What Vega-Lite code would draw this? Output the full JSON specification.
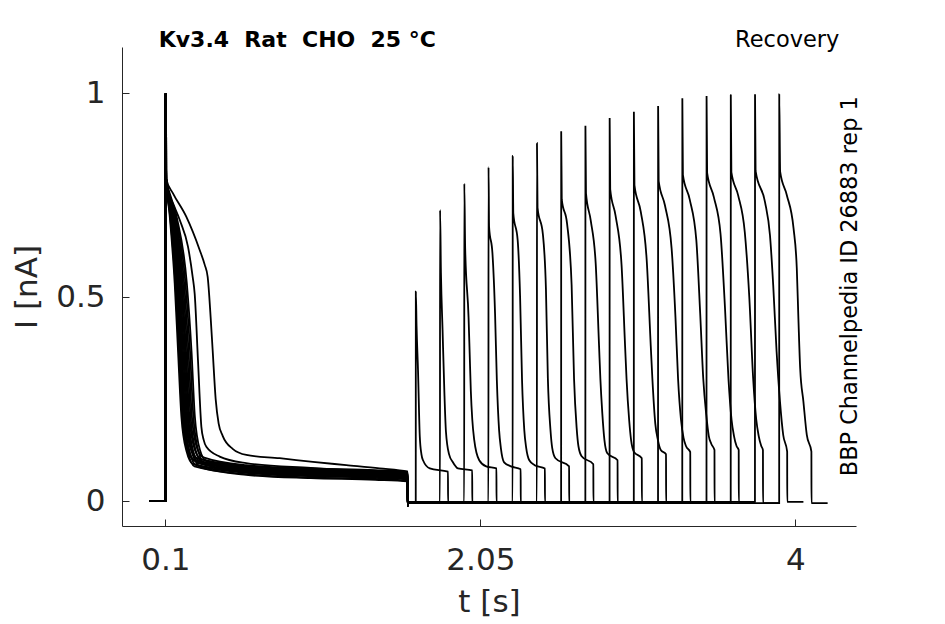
{
"$schema": "https://vega.github.io/schema/vega-lite/v6.json",
"width": 734, "height": 479,
"autosize": {"type": "none"},
"padding": {"left": 122, "top": 47, "right": 89, "bottom": 98},
"background": "white",
"config": {"view": {"stroke": null}, "font": "DejaVu Sans"},
"layer": [
{"data": {"values": [
{"k":1,"t":0,"i":0},{"k":1,"t":0.0995,"i":0},{"k":1,"t":0.1,"i":1},{"k":1,"t":0.105,"i":0.79},{"k":1,"t":0.1266,"i":0.7},{"k":1,"t":0.1576,"i":0.534},{"k":1,"t":0.178,"i":0.37},{"k":1,"t":0.199,"i":0.207},{"k":1,"t":0.23,"i":0.123},{"k":1,"t":0.2708,"i":0.091},{"k":1,"t":0.6,"i":0.072},{"k":1,"t":1,"i":0.064},{"k":1,"t":1.4,"i":0.06},{"k":1,"t":1.5995,"i":0.056},{"k":1,"t":1.6,"i":-0.012},{"k":1,"t":1.605,"i":-0.002},{"k":1,"t":1.65,"i":-0.002},{"k":1,"t":1.6505,"i":0.514},{"k":1,"t":1.655,"i":0.43},{"k":1,"t":1.664,"i":0.321},{"k":1,"t":1.675,"i":0.158},{"k":1,"t":1.685,"i":0.115},{"k":1,"t":1.695,"i":0.1},{"k":1,"t":1.737,"i":0.08},{"k":1,"t":1.8495,"i":0.072},{"k":1,"t":1.85,"i":-0.002},{"k":1,"t":1.95,"i":-0.002},
{"k":2,"t":0,"i":0},{"k":2,"t":0.1035,"i":0},{"k":2,"t":0.104,"i":1},{"k":2,"t":0.105,"i":0.79},{"k":2,"t":0.1291,"i":0.7},{"k":2,"t":0.1621,"i":0.534},{"k":2,"t":0.183,"i":0.37},{"k":2,"t":0.204,"i":0.207},{"k":2,"t":0.235,"i":0.128},{"k":2,"t":0.2758,"i":0.101},{"k":2,"t":0.6,"i":0.082},{"k":2,"t":1,"i":0.074},{"k":2,"t":1.4,"i":0.07},{"k":2,"t":1.5995,"i":0.066},{"k":2,"t":1.6,"i":-0.012},{"k":2,"t":1.605,"i":-0.005},{"k":2,"t":1.8,"i":-0.005},{"k":2,"t":1.8005,"i":0.714},{"k":2,"t":1.806,"i":0.56},{"k":2,"t":1.816,"i":0.42},{"k":2,"t":1.827,"i":0.27},{"k":2,"t":1.837,"i":0.17},{"k":2,"t":1.856,"i":0.115},{"k":2,"t":1.88,"i":0.095},{"k":2,"t":1.911,"i":0.08},{"k":2,"t":1.9995,"i":0.075},{"k":2,"t":2,"i":-0.005},{"k":2,"t":2.1,"i":-0.005},
{"k":3,"t":0,"i":0},{"k":3,"t":0.0995,"i":0},{"k":3,"t":0.1,"i":1},{"k":3,"t":0.105,"i":0.79},{"k":3,"t":0.1316,"i":0.7},{"k":3,"t":0.1665,"i":0.534},{"k":3,"t":0.1879,"i":0.37},{"k":3,"t":0.2089,"i":0.207},{"k":3,"t":0.2399,"i":0.12},{"k":3,"t":0.2807,"i":0.085},{"k":3,"t":0.6,"i":0.066},{"k":3,"t":1,"i":0.058},{"k":3,"t":1.4,"i":0.054},{"k":3,"t":1.5995,"i":0.05},{"k":3,"t":1.6,"i":-0.012},{"k":3,"t":1.605,"i":-0.002},{"k":3,"t":1.95,"i":-0.002},{"k":3,"t":1.9505,"i":0.779},{"k":3,"t":1.956,"i":0.62},{"k":3,"t":1.977,"i":0.45},{"k":3,"t":1.984,"i":0.36},{"k":3,"t":1.991,"i":0.27},{"k":3,"t":2,"i":0.2},{"k":3,"t":2.012,"i":0.15},{"k":3,"t":2.043,"i":0.1},{"k":3,"t":2.086,"i":0.085},{"k":3,"t":2.1495,"i":0.08},{"k":3,"t":2.15,"i":-0.002},{"k":3,"t":2.25,"i":-0.002},
{"k":4,"t":0,"i":0},{"k":4,"t":0.1035,"i":0},{"k":4,"t":0.104,"i":1},{"k":4,"t":0.105,"i":0.79},{"k":4,"t":0.134,"i":0.7},{"k":4,"t":0.171,"i":0.534},{"k":4,"t":0.1929,"i":0.37},{"k":4,"t":0.2139,"i":0.207},{"k":4,"t":0.2449,"i":0.126},{"k":4,"t":0.2857,"i":0.097},{"k":4,"t":0.6,"i":0.078},{"k":4,"t":1,"i":0.07},{"k":4,"t":1.4,"i":0.066},{"k":4,"t":1.5995,"i":0.062},{"k":4,"t":1.6,"i":-0.012},{"k":4,"t":1.605,"i":-0.005},{"k":4,"t":2.1,"i":-0.005},{"k":4,"t":2.1005,"i":0.819},{"k":4,"t":2.104,"i":0.673},{"k":4,"t":2.125,"i":0.607},{"k":4,"t":2.141,"i":0.46},{"k":4,"t":2.152,"i":0.297},{"k":4,"t":2.166,"i":0.174},{"k":4,"t":2.177,"i":0.13},{"k":4,"t":2.197,"i":0.095},{"k":4,"t":2.24,"i":0.085},{"k":4,"t":2.2995,"i":0.078},{"k":4,"t":2.3,"i":-0.005},{"k":4,"t":2.4,"i":-0.005},
{"k":5,"t":0,"i":0},{"k":5,"t":0.0995,"i":0},{"k":5,"t":0.1,"i":1},{"k":5,"t":0.105,"i":0.79},{"k":5,"t":0.1365,"i":0.7},{"k":5,"t":0.1754,"i":0.534},{"k":5,"t":0.1978,"i":0.37},{"k":5,"t":0.2188,"i":0.207},{"k":5,"t":0.2498,"i":0.121},{"k":5,"t":0.2906,"i":0.088},{"k":5,"t":0.6,"i":0.069},{"k":5,"t":1,"i":0.061},{"k":5,"t":1.4,"i":0.057},{"k":5,"t":1.5995,"i":0.053},{"k":5,"t":1.6,"i":-0.012},{"k":5,"t":1.605,"i":-0.002},{"k":5,"t":2.25,"i":-0.002},{"k":5,"t":2.2505,"i":0.847},{"k":5,"t":2.254,"i":0.706},{"k":5,"t":2.281,"i":0.64},{"k":5,"t":2.296,"i":0.501},{"k":5,"t":2.308,"i":0.297},{"k":5,"t":2.322,"i":0.174},{"k":5,"t":2.334,"i":0.13},{"k":5,"t":2.353,"i":0.1},{"k":5,"t":2.386,"i":0.088},{"k":5,"t":2.4495,"i":0.08},{"k":5,"t":2.45,"i":-0.002},{"k":5,"t":2.55,"i":-0.002},
{"k":6,"t":0,"i":0},{"k":6,"t":0.1035,"i":0},{"k":6,"t":0.104,"i":1},{"k":6,"t":0.105,"i":0.79},{"k":6,"t":0.139,"i":0.7},{"k":6,"t":0.1799,"i":0.534},{"k":6,"t":0.2028,"i":0.37},{"k":6,"t":0.2238,"i":0.207},{"k":6,"t":0.2548,"i":0.13},{"k":6,"t":0.2956,"i":0.105},{"k":6,"t":0.6,"i":0.086},{"k":6,"t":1,"i":0.078},{"k":6,"t":1.4,"i":0.074},{"k":6,"t":1.5995,"i":0.07},{"k":6,"t":1.6,"i":-0.012},{"k":6,"t":1.605,"i":-0.005},{"k":6,"t":2.4,"i":-0.005},{"k":6,"t":2.4005,"i":0.878},{"k":6,"t":2.404,"i":0.72},{"k":6,"t":2.437,"i":0.655},{"k":6,"t":2.456,"i":0.52},{"k":6,"t":2.468,"i":0.3},{"k":6,"t":2.484,"i":0.175},{"k":6,"t":2.495,"i":0.13},{"k":6,"t":2.515,"i":0.105},{"k":6,"t":2.5995,"i":0.085},{"k":6,"t":2.6,"i":-0.005},{"k":6,"t":2.7,"i":-0.005},
{"k":7,"t":0,"i":0},{"k":7,"t":0.0995,"i":0},{"k":7,"t":0.1,"i":1},{"k":7,"t":0.105,"i":0.79},{"k":7,"t":0.1421,"i":0.7},{"k":7,"t":0.1854,"i":0.534},{"k":7,"t":0.2089,"i":0.37},{"k":7,"t":0.2299,"i":0.207},{"k":7,"t":0.2609,"i":0.124},{"k":7,"t":0.3017,"i":0.093},{"k":7,"t":0.6,"i":0.074},{"k":7,"t":1,"i":0.066},{"k":7,"t":1.4,"i":0.062},{"k":7,"t":1.5995,"i":0.058},{"k":7,"t":1.6,"i":-0.012},{"k":7,"t":1.605,"i":-0.002},{"k":7,"t":2.55,"i":-0.002},{"k":7,"t":2.5505,"i":0.907},{"k":7,"t":2.554,"i":0.74},{"k":7,"t":2.587,"i":0.68},{"k":7,"t":2.615,"i":0.53},{"k":7,"t":2.63,"i":0.3},{"k":7,"t":2.646,"i":0.18},{"k":7,"t":2.657,"i":0.135},{"k":7,"t":2.677,"i":0.11},{"k":7,"t":2.7495,"i":0.09},{"k":7,"t":2.75,"i":-0.002},{"k":7,"t":2.85,"i":-0.002},
{"k":8,"t":0,"i":0},{"k":8,"t":0.1035,"i":0},{"k":8,"t":0.104,"i":1},{"k":8,"t":0.105,"i":0.79},{"k":8,"t":0.1452,"i":0.7},{"k":8,"t":0.191,"i":0.534},{"k":8,"t":0.2151,"i":0.37},{"k":8,"t":0.2361,"i":0.207},{"k":8,"t":0.2671,"i":0.127},{"k":8,"t":0.3079,"i":0.099},{"k":8,"t":0.6,"i":0.08},{"k":8,"t":1,"i":0.072},{"k":8,"t":1.4,"i":0.068},{"k":8,"t":1.5995,"i":0.064},{"k":8,"t":1.6,"i":-0.012},{"k":8,"t":1.605,"i":-0.005},{"k":8,"t":2.7,"i":-0.005},{"k":8,"t":2.7005,"i":0.921},{"k":8,"t":2.704,"i":0.755},{"k":8,"t":2.733,"i":0.689},{"k":8,"t":2.764,"i":0.583},{"k":8,"t":2.785,"i":0.379},{"k":8,"t":2.793,"i":0.3},{"k":8,"t":2.805,"i":0.215},{"k":8,"t":2.818,"i":0.15},{"k":8,"t":2.836,"i":0.117},{"k":8,"t":2.8995,"i":0.1},{"k":8,"t":2.9,"i":-0.005},{"k":8,"t":3,"i":-0.005},
{"k":9,"t":0,"i":0},{"k":9,"t":0.0995,"i":0},{"k":9,"t":0.1,"i":1},{"k":9,"t":0.105,"i":0.79},{"k":9,"t":0.1483,"i":0.7},{"k":9,"t":0.1966,"i":0.534},{"k":9,"t":0.2213,"i":0.37},{"k":9,"t":0.2423,"i":0.207},{"k":9,"t":0.2733,"i":0.119},{"k":9,"t":0.3141,"i":0.083},{"k":9,"t":0.6,"i":0.064},{"k":9,"t":1,"i":0.056},{"k":9,"t":1.4,"i":0.052},{"k":9,"t":1.5995,"i":0.048},{"k":9,"t":1.6,"i":-0.012},{"k":9,"t":1.605,"i":-0.002},{"k":9,"t":2.85,"i":-0.002},{"k":9,"t":2.8505,"i":0.94},{"k":9,"t":2.854,"i":0.765},{"k":9,"t":2.887,"i":0.7},{"k":9,"t":2.924,"i":0.58},{"k":9,"t":2.946,"i":0.38},{"k":9,"t":2.955,"i":0.3},{"k":9,"t":2.971,"i":0.2},{"k":9,"t":2.983,"i":0.15},{"k":9,"t":3.002,"i":0.12},{"k":9,"t":3.0495,"i":0.105},{"k":9,"t":3.05,"i":-0.002},{"k":9,"t":3.15,"i":-0.002},
{"k":10,"t":0,"i":0},{"k":10,"t":0.1035,"i":0},{"k":10,"t":0.104,"i":1},{"k":10,"t":0.105,"i":0.79},{"k":10,"t":0.1514,"i":0.7},{"k":10,"t":0.2022,"i":0.534},{"k":10,"t":0.2275,"i":0.37},{"k":10,"t":0.2485,"i":0.207},{"k":10,"t":0.2795,"i":0.129},{"k":10,"t":0.3203,"i":0.103},{"k":10,"t":0.6,"i":0.084},{"k":10,"t":1,"i":0.076},{"k":10,"t":1.4,"i":0.072},{"k":10,"t":1.5995,"i":0.068},{"k":10,"t":1.6,"i":-0.012},{"k":10,"t":1.605,"i":-0.005},{"k":10,"t":3,"i":-0.005},{"k":10,"t":3.0005,"i":0.955},{"k":10,"t":3.004,"i":0.775},{"k":10,"t":3.043,"i":0.71},{"k":10,"t":3.08,"i":0.59},{"k":10,"t":3.105,"i":0.38},{"k":10,"t":3.115,"i":0.3},{"k":10,"t":3.133,"i":0.19},{"k":10,"t":3.149,"i":0.15},{"k":10,"t":3.167,"i":0.125},{"k":10,"t":3.1995,"i":0.115},{"k":10,"t":3.2,"i":-0.005},{"k":10,"t":3.3,"i":-0.005},
{"k":11,"t":0,"i":0},{"k":11,"t":0.0995,"i":0},{"k":11,"t":0.1,"i":1},{"k":11,"t":0.105,"i":0.79},{"k":11,"t":0.1551,"i":0.7},{"k":11,"t":0.2088,"i":0.534},{"k":11,"t":0.2349,"i":0.37},{"k":11,"t":0.2559,"i":0.207},{"k":11,"t":0.2869,"i":0.125},{"k":11,"t":0.3277,"i":0.095},{"k":11,"t":0.6,"i":0.076},{"k":11,"t":1,"i":0.068},{"k":11,"t":1.4,"i":0.064},{"k":11,"t":1.5995,"i":0.06},{"k":11,"t":1.6,"i":-0.012},{"k":11,"t":1.605,"i":-0.002},{"k":11,"t":3.15,"i":-0.002},{"k":11,"t":3.1505,"i":0.969},{"k":11,"t":3.154,"i":0.785},{"k":11,"t":3.193,"i":0.725},{"k":11,"t":3.234,"i":0.62},{"k":11,"t":3.258,"i":0.45},{"k":11,"t":3.274,"i":0.3},{"k":11,"t":3.292,"i":0.2},{"k":11,"t":3.308,"i":0.155},{"k":11,"t":3.323,"i":0.135},{"k":11,"t":3.3495,"i":0.12},{"k":11,"t":3.35,"i":-0.002},{"k":11,"t":3.45,"i":-0.002},
{"k":12,"t":0,"i":0},{"k":12,"t":0.1035,"i":0},{"k":12,"t":0.104,"i":1},{"k":12,"t":0.105,"i":0.79},{"k":12,"t":0.1591,"i":0.7},{"k":12,"t":0.2161,"i":0.534},{"k":12,"t":0.243,"i":0.37},{"k":12,"t":0.264,"i":0.207},{"k":12,"t":0.295,"i":0.131},{"k":12,"t":0.3358,"i":0.107},{"k":12,"t":0.6,"i":0.088},{"k":12,"t":1,"i":0.08},{"k":12,"t":1.4,"i":0.076},{"k":12,"t":1.5995,"i":0.072},{"k":12,"t":1.6,"i":-0.012},{"k":12,"t":1.605,"i":-0.005},{"k":12,"t":3.3,"i":-0.005},{"k":12,"t":3.3005,"i":0.988},{"k":12,"t":3.304,"i":0.8},{"k":12,"t":3.346,"i":0.74},{"k":12,"t":3.387,"i":0.64},{"k":12,"t":3.411,"i":0.46},{"k":12,"t":3.43,"i":0.3},{"k":12,"t":3.449,"i":0.21},{"k":12,"t":3.464,"i":0.16},{"k":12,"t":3.48,"i":0.14},{"k":12,"t":3.4995,"i":0.125},{"k":12,"t":3.5,"i":-0.005},{"k":12,"t":3.6,"i":-0.005},
{"k":13,"t":0,"i":0},{"k":13,"t":0.0995,"i":0},{"k":13,"t":0.1,"i":1},{"k":13,"t":0.105,"i":0.79},{"k":13,"t":0.1637,"i":0.7},{"k":13,"t":0.2244,"i":0.534},{"k":13,"t":0.2523,"i":0.37},{"k":13,"t":0.2733,"i":0.207},{"k":13,"t":0.3043,"i":0.122},{"k":13,"t":0.3451,"i":0.09},{"k":13,"t":0.6,"i":0.071},{"k":13,"t":1,"i":0.063},{"k":13,"t":1.4,"i":0.059},{"k":13,"t":1.5995,"i":0.055},{"k":13,"t":1.6,"i":-0.012},{"k":13,"t":1.605,"i":-0.002},{"k":13,"t":3.45,"i":-0.002},{"k":13,"t":3.4505,"i":0.994},{"k":13,"t":3.454,"i":0.805},{"k":13,"t":3.496,"i":0.745},{"k":13,"t":3.537,"i":0.655},{"k":13,"t":3.565,"i":0.47},{"k":13,"t":3.586,"i":0.3},{"k":13,"t":3.605,"i":0.2},{"k":13,"t":3.62,"i":0.16},{"k":13,"t":3.636,"i":0.135},{"k":13,"t":3.6495,"i":0.125},{"k":13,"t":3.65,"i":-0.002},{"k":13,"t":3.75,"i":-0.002},
{"k":14,"t":0,"i":0},{"k":14,"t":0.1035,"i":0},{"k":14,"t":0.104,"i":1},{"k":14,"t":0.105,"i":0.79},{"k":14,"t":0.1684,"i":0.7},{"k":14,"t":0.2328,"i":0.534},{"k":14,"t":0.2615,"i":0.37},{"k":14,"t":0.2825,"i":0.207},{"k":14,"t":0.3135,"i":0.126},{"k":14,"t":0.3543,"i":0.098},{"k":14,"t":0.6,"i":0.079},{"k":14,"t":1,"i":0.071},{"k":14,"t":1.4,"i":0.067},{"k":14,"t":1.5995,"i":0.063},{"k":14,"t":1.6,"i":-0.012},{"k":14,"t":1.605,"i":-0.005},{"k":14,"t":3.6,"i":-0.005},{"k":14,"t":3.6005,"i":0.996},{"k":14,"t":3.604,"i":0.807},{"k":14,"t":3.646,"i":0.75},{"k":14,"t":3.687,"i":0.66},{"k":14,"t":3.715,"i":0.5},{"k":14,"t":3.739,"i":0.3},{"k":14,"t":3.758,"i":0.2},{"k":14,"t":3.773,"i":0.16},{"k":14,"t":3.789,"i":0.135},{"k":14,"t":3.7995,"i":0.125},{"k":14,"t":3.8,"i":-0.005},{"k":14,"t":3.9,"i":-0.005},
{"k":15,"t":0,"i":0},{"k":15,"t":0.0995,"i":0},{"k":15,"t":0.1,"i":1},{"k":15,"t":0.105,"i":0.79},{"k":15,"t":0.1266,"i":0.755},{"k":15,"t":0.1885,"i":0.69},{"k":15,"t":0.2399,"i":0.624},{"k":15,"t":0.2689,"i":0.55},{"k":15,"t":0.2813,"i":0.509},{"k":15,"t":0.3017,"i":0.346},{"k":15,"t":0.3228,"i":0.182},{"k":15,"t":0.337,"i":0.15},{"k":15,"t":0.3537,"i":0.133},{"k":15,"t":0.436,"i":0.109},{"k":15,"t":0.6,"i":0.093},{"k":15,"t":1,"i":0.081},{"k":15,"t":1.3,"i":0.074},{"k":15,"t":1.5995,"i":0.068},{"k":15,"t":1.6,"i":-0.012},{"k":15,"t":1.605,"i":-0.002},{"k":15,"t":3.75,"i":-0.002},{"k":15,"t":3.7505,"i":0.998},{"k":15,"t":3.754,"i":0.81},{"k":15,"t":3.812,"i":0.734},{"k":15,"t":3.843,"i":0.652},{"k":15,"t":3.863,"i":0.53},{"k":15,"t":3.884,"i":0.367},{"k":15,"t":3.905,"i":0.244},{"k":15,"t":3.925,"i":0.162},{"k":15,"t":3.9495,"i":0.121},{"k":15,"t":3.95,"i":-0.002},{"k":15,"t":4.05,"i":-0.002},
{"k":16,"t":0,"i":0},{"k":16,"t":0.1035,"i":0},{"k":16,"t":0.104,"i":1},{"k":16,"t":0.105,"i":0.79},{"k":16,"t":0.147,"i":0.755},{"k":16,"t":0.23,"i":0.697},{"k":16,"t":0.3123,"i":0.616},{"k":16,"t":0.3432,"i":0.58},{"k":16,"t":0.3618,"i":0.55},{"k":16,"t":0.3803,"i":0.45},{"k":16,"t":0.3927,"i":0.37},{"k":16,"t":0.4113,"i":0.25},{"k":16,"t":0.4298,"i":0.19},{"k":16,"t":0.4546,"i":0.16},{"k":16,"t":0.5165,"i":0.128},{"k":16,"t":0.6012,"i":0.113},{"k":16,"t":0.8073,"i":0.105},{"k":16,"t":1.0134,"i":0.096},{"k":16,"t":1.22,"i":0.088},{"k":16,"t":1.4261,"i":0.08},{"k":16,"t":1.5995,"i":0.072},{"k":16,"t":1.6,"i":-0.012},{"k":16,"t":1.605,"i":-0.005},{"k":16,"t":3.9,"i":-0.005},{"k":16,"t":3.9005,"i":0.998},{"k":16,"t":3.906,"i":0.808},{"k":16,"t":3.947,"i":0.751},{"k":16,"t":3.989,"i":0.669},{"k":16,"t":4.009,"i":0.571},{"k":16,"t":4.019,"i":0.448},{"k":16,"t":4.03,"i":0.325},{"k":16,"t":4.05,"i":0.244},{"k":16,"t":4.071,"i":0.162},{"k":16,"t":4.0995,"i":0.121},{"k":16,"t":4.1,"i":-0.005},{"k":16,"t":4.2,"i":-0.005}
]},
"mark": {"type": "line", "color": "black", "strokeWidth": 1.8, "interpolate": "monotone"},
"encoding": {
"x": {"field": "t", "type": "quantitative", "scale": {"domain": [-0.1686, 4.3756], "nice": false, "zero": false},
 "axis": {"values": [0.1, 2.05, 4], "labelExpr": "format(datum.value, '~g')", "title": "t [s]", "grid": false, "tickSize": -7, "labelPadding": 26, "labelFontSize": 31, "titleFontSize": 31, "labelFont": "DejaVu Sans", "titleFont": "DejaVu Sans", "titleFontWeight": "normal", "labelColor": "#262626", "titleColor": "#262626", "domainColor": "#262626", "tickColor": "#262626", "titlePadding": 12, "labelFlush": false, "labelOverlap": false}},
"y": {"field": "i", "type": "quantitative", "scale": {"domain": [-0.0613, 1.114], "nice": false, "zero": false},
 "axis": {"values": [0, 0.5, 1], "labelExpr": "format(datum.value, '~g')", "title": "I [nA]", "grid": false, "tickSize": -7, "labelPadding": 24, "labelFontSize": 31, "titleFontSize": 31, "labelFont": "DejaVu Sans", "titleFont": "DejaVu Sans", "titleFontWeight": "normal", "labelColor": "#262626", "titleColor": "#262626", "domainColor": "#262626", "tickColor": "#262626", "titlePadding": 12, "labelOverlap": false}},
"detail": {"field": "k", "type": "nominal"}
}},
{"data": {"values": [{"label": "Kv3.4\u00a0\u00a0Rat\u00a0\u00a0CHO\u00a0\u00a025 °C"}]},
 "mark": {"type": "text", "align": "left", "baseline": "alphabetic", "fontWeight": "bold", "fontSize": 22, "font": "DejaVu Sans", "color": "black"},
 "encoding": {"x": {"datum": 0.0585, "type": "quantitative"}, "y": {"datum": 1.114, "type": "quantitative"}, "text": {"field": "label"}}},
{"data": {"values": [{"label": "Recovery"}]},
 "mark": {"type": "text", "align": "right", "baseline": "alphabetic", "fontSize": 22.5, "font": "DejaVu Sans", "color": "black"},
 "encoding": {"x": {"datum": 4.273, "type": "quantitative"}, "y": {"datum": 1.114, "type": "quantitative"}, "text": {"field": "label"}}},
{"data": {"values": [{"label": "BBP Channelpedia ID 26883 rep 1"}]},
 "mark": {"type": "text", "align": "center", "baseline": "alphabetic", "angle": 270, "fontSize": 22.4, "font": "DejaVu Sans", "color": "black"},
 "encoding": {"x": {"datum": 4.3797, "type": "quantitative"}, "y": {"datum": 0.527, "type": "quantitative"}, "text": {"field": "label"}}}
]
}
